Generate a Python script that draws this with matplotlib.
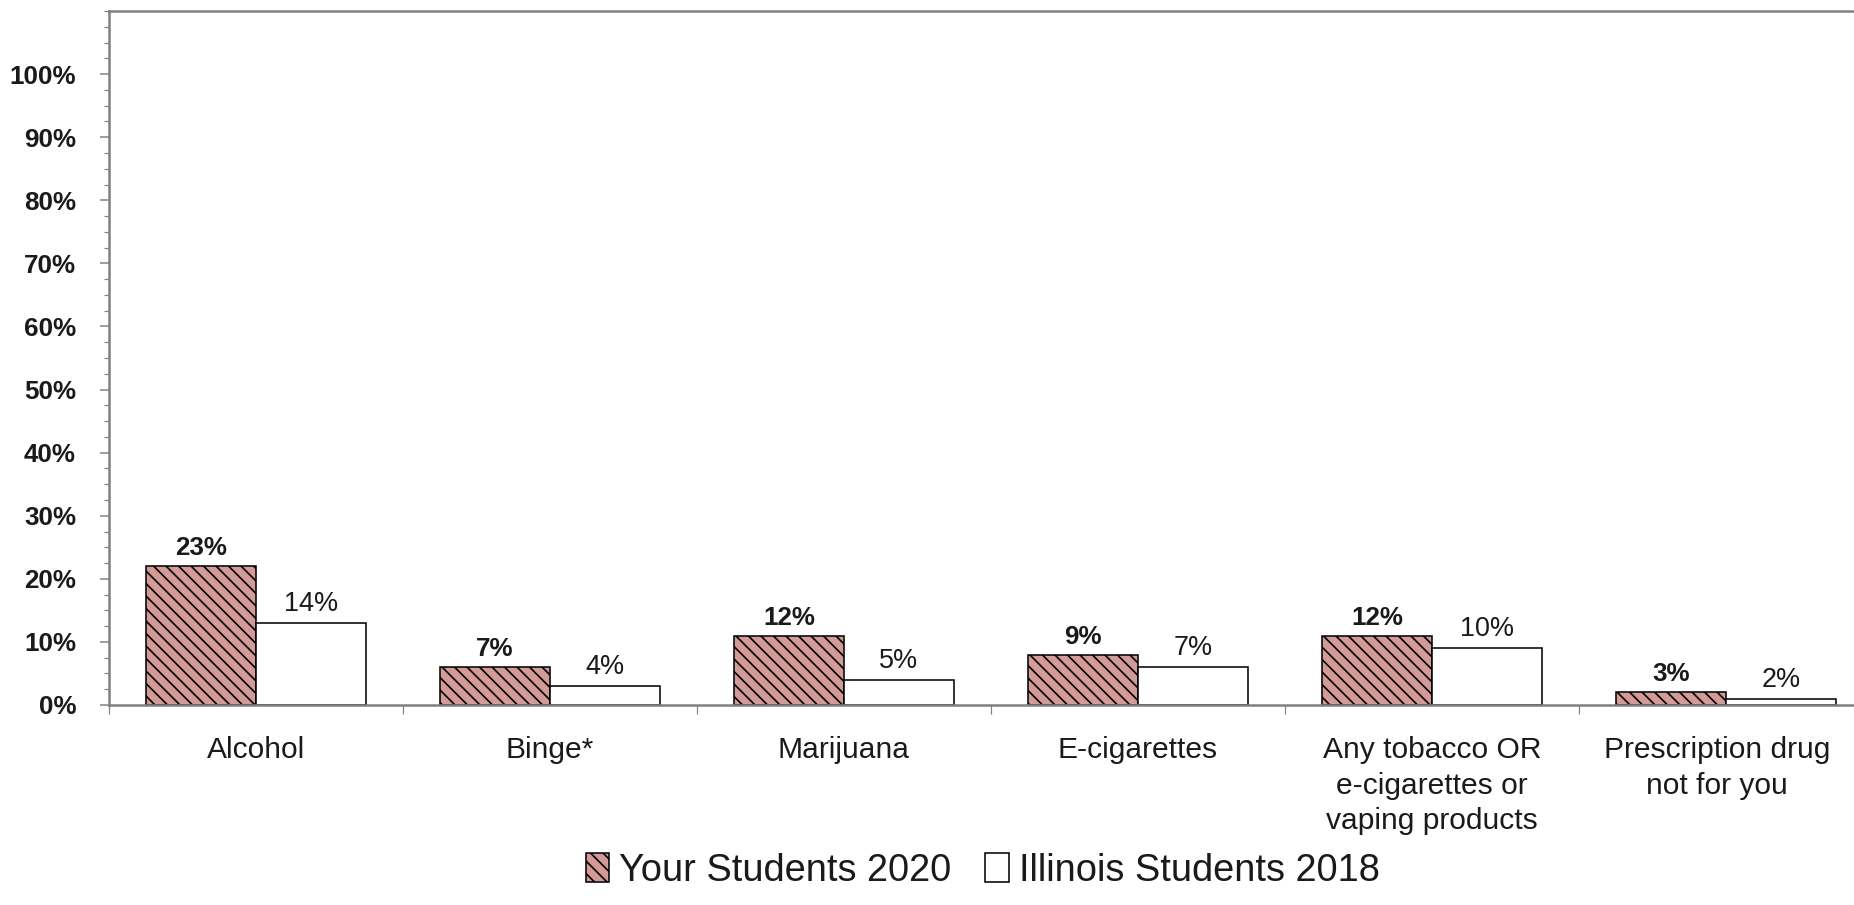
import matplotlib.pyplot as plt
import matplotlib.transforms as mtransforms
import numpy as np
from matplotlib.ticker import MultipleLocator, FuncFormatter

# ==============================
# DATA
# ==============================
categories = [
    "Alcohol",
    "Binge*",
    "Marijuana",
    "E-cigarettes",
    "Any tobacco OR\ne-cigarettes or\nvaping products",
    "Prescription drug\nnot for you",
]
your_students_2020 = [22, 6, 11, 8, 11, 2]
illinois_students_2018 = [13, 3, 4, 6, 9, 1]
your_labels = ["23%", "7%", "12%", "9%", "12%", "3%"]
illinois_labels = ["14%", "4%", "5%", "7%", "10%", "2%"]
series_names = ["Your Students 2020", "Illinois Students 2018"]

# ==============================
# STYLE
# ==============================
DPI = 150
W, H = 1854, 905
def px(p):
    # pixels -> points at this dpi
    return p * 72.0 / DPI

plt.rcParams["font.family"] = ["Liberation Sans", "DejaVu Sans"]
plt.rcParams["hatch.linewidth"] = 0.8

axis_gray = "#808080"
text_col = "#1a1a1a"
rose = "#d49a98"

fig = plt.figure(figsize=(W / DPI, H / DPI), dpi=DPI)
fig.patch.set_facecolor("white")

left, right = 109, 1873
bottom, top = 705, 11
ax = fig.add_axes([left / W, (H - bottom) / H, (right - left) / W, (bottom - top) / H])

x = np.arange(len(categories))
bw = 0.374

b1 = ax.bar(x - bw / 2, your_students_2020, bw, color=rose, edgecolor="black",
            hatch="\\\\\\\\", linewidth=0.75, label=series_names[0])
b2 = ax.bar(x + bw / 2, illinois_students_2018, bw, color="white", edgecolor="black",
            linewidth=0.75, label=series_names[1])

for rect, lab in zip(b1, your_labels):
    ax.annotate(lab, (rect.get_x() + rect.get_width() / 2, rect.get_height()),
                xytext=(0, px(6)), textcoords="offset points", ha="center", va="bottom",
                fontsize=px(26), fontweight="bold", color=text_col)
for rect, lab in zip(b2, illinois_labels):
    ax.annotate(lab, (rect.get_x() + rect.get_width() / 2, rect.get_height()),
                xytext=(0, px(6)), textcoords="offset points", ha="center", va="bottom",
                fontsize=px(27), color=text_col)

# ==============================
# AXES
# ==============================
ax.set_xlim(-0.5, len(categories) - 0.5)
ax.set_ylim(0, 110)

ax.yaxis.set_minor_locator(MultipleLocator(2.5))
ax.set_yticks(np.arange(0, 101, 10))
ax.yaxis.set_major_formatter(FuncFormatter(lambda v, p: f"{int(v)}%"))
ax.tick_params(axis="y", which="major", length=px(9), width=px(1.5), color=axis_gray,
               pad=px(24), labelsize=px(26), labelcolor=text_col)
ax.tick_params(axis="y", which="minor", length=px(5), width=px(1.2), color=axis_gray)
for t in ax.get_yticklabels():
    t.set_fontweight("bold")

ax.set_xticks(x)
ax.set_xticklabels(categories, fontsize=px(30), color=text_col, linespacing=1.35)
ax.set_xticks(np.arange(-0.5, len(categories), 1), minor=True)
ax.tick_params(axis="x", which="major", length=0, pad=px(31))
ax.tick_params(axis="x", which="minor", length=px(9), width=px(1.2), color=axis_gray)

# last label sits a little left, kept inside the cropped plot area
last = ax.get_xticklabels()[-1]
last.set_transform(last.get_transform() + mtransforms.ScaledTranslation(-9 / DPI, 0, fig.dpi_scale_trans))

for side in ["left", "top", "bottom"]:
    ax.spines[side].set_color(axis_gray)
    ax.spines[side].set_linewidth(px(2.5))
ax.spines["right"].set_visible(False)

leg = fig.legend(handles=[b1, b2], labels=series_names, loc="lower center",
                 bbox_to_anchor=(0.53, -0.02), ncol=2, frameon=False,
                 fontsize=px(38), handlelength=0.63, handleheight=0.8,
                 handletextpad=0.25, columnspacing=0.9)
for t in leg.get_texts():
    t.set_color(text_col)

fig.savefig("out.png", dpi=DPI, facecolor="white")
